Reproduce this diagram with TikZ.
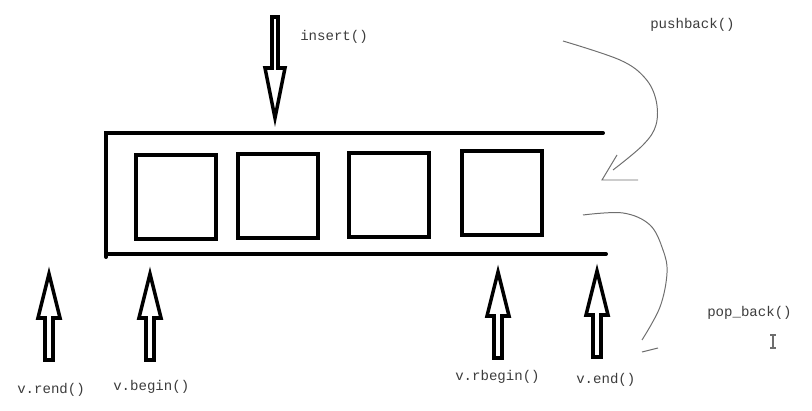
\documentclass[tikz,border=0pt]{standalone}
\usepackage{fontspec}
\setmonofont{Liberation Mono}
\usepackage{tikz}
\usetikzlibrary{positioning}
\definecolor{labelgray}{RGB}{60,60,60}
\definecolor{penGray}{RGB}{110,110,110}

\tikzset{
  wall/.style={line width=2.8pt, line cap=round},
  cell/.style={draw, line width=2.8pt, minimum width=2cm, minimum height=2.1cm, inner sep=0pt},
  ptr/.style={draw, line width=2.5pt, line join=miter, fill=white},
  pen/.style={draw=penGray, line width=0.7pt},
  lbl/.style={font=\ttfamily\fontsize{10}{12}\selectfont, text=labelgray, anchor=west, inner sep=0pt},
  uparr/.pic={\path[ptr] (-4,0) -- (-4,-42) -- (-11,-42) -- (0,-86) -- (11,-42) -- (4,-42) -- (4,0) -- cycle;}
}

\begin{document}
\begin{tikzpicture}[x=0.025cm, y=-0.025cm]
  \useasboundingbox (0,0) rectangle (812,411);

  % container
  \draw[wall] (603,133) -- (106,133) -- (106,257);
  \draw[wall] (106,254) -- (606,254);

  % elements
  \node[cell] (c1) at (176,197) {};
  \node[cell] (c2) at (278,196) {};
  \node[cell] (c3) at (389,195) {};
  \node[cell] (c4) at (502,193) {};

  % insert
  \path[ptr] (272,17) -- (272,68) -- (265,68) -- (275,118) -- (285,68) -- (278,68) -- (278,17) -- cycle;
  \node[lbl] (insert) at (300,37) {insert()};

  % iterators
  \pic at (49,360) {uparr};
  \pic at (150,360) {uparr};
  \pic at (498,358) {uparr};
  \pic at (597,357) {uparr};
  \node[lbl] (rend) at (17,390) {v.rend()};
  \node[lbl] (begin) at (113,387) {v.begin()};
  \node[lbl] (rbegin) at (455,377) {v.rbegin()};
  \node[lbl] (end) at (576,380) {v.end()};

  % push back
  \node[lbl] (push) at (650,25) {pushback()};
  \coordinate (pushEnd) at (613,170);
  \draw[pen] plot[smooth, tension=0.6] coordinates {(563,41) (620,60) (645,78) (656,100) (656,125) (643,145) (pushEnd)};
  \draw[pen] (617,155) -- (602,180) -- (638,180);

  % pop back
  \node[lbl] (pop) at (707,313) {pop\_back()};
  \coordinate (popEnd) at (642,340);
  \draw[pen] plot[smooth, tension=0.6] coordinates {(583,215) (623,213) (650,225) (663,250) (667,273) (660,307) (popEnd)};
  \draw[pen] (642,352) -- (658,348);

  % cursor
  \draw[draw=penGray, line width=0.8pt] (773,335) -- (773,348) (770,335) -- (776,335) (770,348) -- (776,348);
\end{tikzpicture}
\end{document}
